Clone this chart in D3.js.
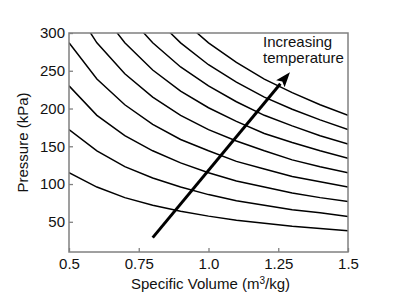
<!DOCTYPE html>
<html>
<head>
<meta charset="utf-8">
<script src="https://cdn.jsdelivr.net/npm/d3@7"></script>
<style>
  body { margin: 0; background: #fff; }
  text { font-family: "Liberation Sans", Arial, sans-serif; }
</style>
</head>
<body>
<svg id="chart" width="393" height="307"></svg>
<script>
// specific volume samples (m3/kg)
var volumes = [0.5, 0.6, 0.7, 0.8, 0.9, 1.0, 1.1, 1.2, 1.3, 1.4, 1.5];

// pressure (kPa) along each isotherm, lowest to highest temperature
var p200 = [115, 96, 82, 72, 64, 57.5, 52, 48, 44, 41, 38];
var p300 = [172, 144, 123, 108, 96, 86, 78, 72, 66, 62, 57];
var p400 = [230, 191, 164, 144, 128, 115, 104, 96, 88, 82, 77];
var p500 = [287, 239, 205, 179, 159, 144, 130, 120, 110, 103, 96];
var p600 = [344, 287, 246, 215, 191, 172, 157, 144, 132, 123, 115];
var p700 = [402, 335, 287, 251, 223, 201, 183, 167, 155, 144, 134];
var p800 = [459, 383, 328, 287, 255, 230, 209, 191, 177, 164, 153];
var p900 = [517, 431, 369, 323, 287, 258, 235, 215, 199, 185, 172];
var p1000 = [574, 478, 410, 359, 319, 287, 261, 239, 221, 205, 191];
var isotherms = [p200, p300, p400, p500, p600, p700, p800, p900, p1000];

var xTicks = [0.5, 0.75, 1.0, 1.25, 1.5];
var xTickLabels = ["0.5", "0.75", "1.0", "1.25", "1.5"];
var yTicks = [50, 100, 150, 200, 250, 300];

// arrow from [v, P] to [v, P]
var arrowFrom = [0.80, 29];
var arrowTo = [1.292, 248];

var margin = {top: 33, right: 45, bottom: 55, left: 69};
var width = 393 - margin.left - margin.right;
var height = 307 - margin.top - margin.bottom;

var svg = d3.select("#chart");
var g = svg.append("g")
    .attr("transform", "translate(" + margin.left + "," + margin.top + ")");

var x = d3.scaleLinear().domain([0.5, 1.5]).range([0, width]);
var y = d3.scaleLinear().domain([10, 300]).range([height, 0]);

svg.append("defs").append("clipPath")
    .attr("id", "plot")
    .append("rect")
    .attr("width", width)
    .attr("height", height);

// isotherm curves
var line = d3.line()
    .x(function(d, i) { return x(volumes[i]); })
    .y(function(d) { return y(d); });

g.append("g")
    .attr("clip-path", "url(#plot)")
    .selectAll("path")
    .data(isotherms)
    .enter()
    .append("path")
    .attr("d", line)
    .attr("fill", "none")
    .attr("stroke", "#000")
    .attr("stroke-width", 1.5);

// axes
var xAxis = g.append("g")
    .attr("transform", "translate(0," + height + ")")
    .call(d3.axisBottom(x)
        .tickValues(xTicks)
        .tickFormat(function(d, i) { return xTickLabels[i]; })
        .tickSize(-4)
        .tickPadding(6));

var yAxis = g.append("g")
    .call(d3.axisLeft(y)
        .tickValues(yTicks)
        .tickSize(-4)
        .tickPadding(4));

[xAxis, yAxis].forEach(function(a) {
    a.select(".domain").remove();
    a.selectAll(".tick line").attr("stroke", "#808080").attr("stroke-width", 1.3);
    a.selectAll(".tick text")
        .attr("fill", "#111")
        .style("font-size", "15px")
        .style("font-family", "'Liberation Sans', Arial, sans-serif");
});

// box
g.append("rect")
    .attr("width", width)
    .attr("height", height)
    .attr("fill", "none")
    .attr("stroke", "#808080")
    .attr("stroke-width", 1.5);

// arrow
var x1 = x(arrowFrom[0]), y1 = y(arrowFrom[1]);
var x2 = x(arrowTo[0]), y2 = y(arrowTo[1]);
var ang = Math.atan2(y2 - y1, x2 - x1);
var headLen = 15, headW = 5.5;
var bx = x2 - headLen * Math.cos(ang), by = y2 - headLen * Math.sin(ang);

g.append("line")
    .attr("x1", x1).attr("y1", y1)
    .attr("x2", bx).attr("y2", by)
    .attr("stroke", "#000")
    .attr("stroke-width", 3);

g.append("path")
    .attr("d", "M" + x2 + "," + y2 +
        "L" + (bx + headW * Math.sin(ang)) + "," + (by - headW * Math.cos(ang)) +
        "L" + (bx + 3 * Math.cos(ang)) + "," + (by + 3 * Math.sin(ang)) +
        "L" + (bx - headW * Math.sin(ang)) + "," + (by + headW * Math.cos(ang)) + "Z")
    .attr("fill", "#000");

// annotation
var note = g.append("text")
    .attr("x", 263 - margin.left)
    .attr("y", 47 - margin.top)
    .attr("fill", "#111")
    .style("font-size", "15px");
note.append("tspan").text("Increasing");
note.append("tspan").attr("x", 263 - margin.left).attr("dy", 16).text("temperature");

// axis titles
var xt = svg.append("text")
    .attr("x", margin.left + width / 2 + 2)
    .attr("y", 289)
    .attr("text-anchor", "middle")
    .attr("fill", "#111")
    .style("font-size", "15px");
xt.append("tspan").text("Specific Volume (m");
xt.append("tspan").attr("dy", -5).style("font-size", "10px").text("3");
xt.append("tspan").attr("dy", 5).text("/kg)");

svg.append("text")
    .attr("transform", "translate(28," + (margin.top + height / 2) + ") rotate(-90)")
    .attr("text-anchor", "middle")
    .attr("fill", "#111")
    .style("font-size", "15px")
    .text("Pressure (kPa)");
</script>
</body>
</html>
